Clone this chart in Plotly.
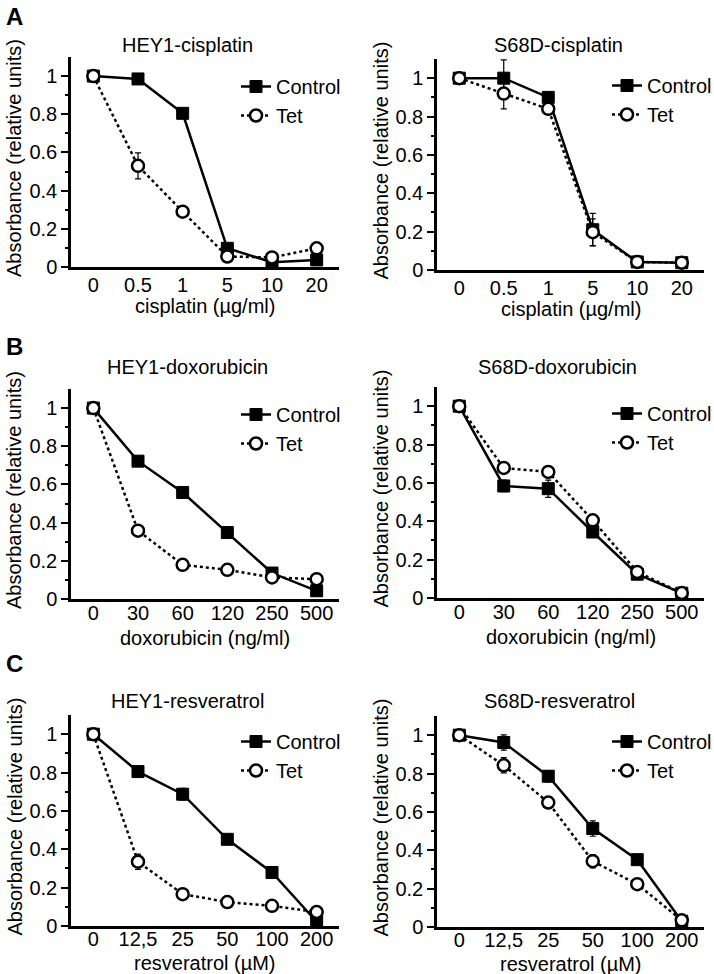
import plotly.graph_objects as go

# ---------------- data ----------------
cis_labels = ["0", "0.5", "1", "5", "10", "20"]
dox_labels = ["0", "30", "60", "120", "250", "500"]
res_labels = ["0", "12,5", "25", "50", "100", "200"]

hey_cis_ctrl = [1.0, 0.985, 0.805, 0.098, 0.025, 0.037]
hey_cis_ctrl_err = [0.0, 0.01, 0.01, 0.01, 0.01, 0.01]
hey_cis_tet = [1.0, 0.53, 0.29, 0.055, 0.05, 0.098]
hey_cis_tet_err = [0.0, 0.068, 0.01, 0.02, 0.01, 0.01]

s68_cis_ctrl = [1.0, 1.0, 0.90, 0.21, 0.042, 0.038]
s68_cis_ctrl_err = [0.0, 0.095, 0.01, 0.085, 0.01, 0.01]
s68_cis_tet = [1.0, 0.92, 0.84, 0.197, 0.042, 0.038]
s68_cis_tet_err = [0.0, 0.08, 0.01, 0.07, 0.01, 0.01]

hey_dox_ctrl = [1.0, 0.722, 0.558, 0.348, 0.136, 0.043]
hey_dox_ctrl_err = [0.0, 0.01, 0.01, 0.01, 0.01, 0.01]
hey_dox_tet = [1.0, 0.358, 0.179, 0.153, 0.113, 0.104]
hey_dox_tet_err = [0.0, 0.01, 0.01, 0.01, 0.01, 0.01]

s68_dox_ctrl = [1.0, 0.584, 0.57, 0.344, 0.124, 0.025]
s68_dox_ctrl_err = [0.0, 0.03, 0.045, 0.01, 0.01, 0.01]
s68_dox_tet = [1.0, 0.678, 0.657, 0.405, 0.136, 0.026]
s68_dox_tet_err = [0.0, 0.01, 0.01, 0.01, 0.01, 0.01]

hey_res_ctrl = [1.0, 0.805, 0.687, 0.452, 0.279, 0.022]
hey_res_ctrl_err = [0.0, 0.01, 0.03, 0.01, 0.01, 0.01]
hey_res_tet = [1.0, 0.335, 0.166, 0.125, 0.105, 0.073]
hey_res_tet_err = [0.0, 0.04, 0.02, 0.01, 0.01, 0.01]

s68_res_ctrl = [1.0, 0.962, 0.786, 0.513, 0.351, 0.03]
s68_res_ctrl_err = [0.0, 0.04, 0.03, 0.04, 0.01, 0.01]
s68_res_tet = [1.0, 0.843, 0.649, 0.343, 0.223, 0.035]
s68_res_tet_err = [0.0, 0.04, 0.025, 0.035, 0.01, 0.01]

titles = ["HEY1-cisplatin", "S68D-cisplatin", "HEY1-doxorubicin",
          "S68D-doxorubicin", "HEY1-resveratrol", "S68D-resveratrol"]
xtitles = ["cisplatin (µg/ml)", "cisplatin (µg/ml)", "doxorubicin (ng/ml)",
           "doxorubicin (ng/ml)", "resveratrol (µM)", "resveratrol (µM)"]
ytitle = "Absorbance (relative units)"
letters = ["A", "B", "C"]

panels = [
    (cis_labels, hey_cis_ctrl, hey_cis_ctrl_err, hey_cis_tet, hey_cis_tet_err),
    (cis_labels, s68_cis_ctrl, s68_cis_ctrl_err, s68_cis_tet, s68_cis_tet_err),
    (dox_labels, hey_dox_ctrl, hey_dox_ctrl_err, hey_dox_tet, hey_dox_tet_err),
    (dox_labels, s68_dox_ctrl, s68_dox_ctrl_err, s68_dox_tet, s68_dox_tet_err),
    (res_labels, hey_res_ctrl, hey_res_ctrl_err, hey_res_tet, hey_res_tet_err),
    (res_labels, s68_res_ctrl, s68_res_ctrl_err, s68_res_tet, s68_res_tet_err),
]

# ---------------- layout geometry (pixels) ----------------
W, H = 714, 974
FONT = "Liberation Sans, Arial, Helvetica, sans-serif"
# (x0, x1, ybottom, ytop) of each plot area in pixels
geom = [
    (71, 339, 267, 57), (437, 704, 270, 59),
    (71, 339, 599, 389), (437, 704, 598, 387),
    (71, 339, 926, 715), (437, 704, 927, 716),
]
tick_standoff = [-2, -2, -6, -6, -7, -7]
xtitle_gap = [39, 39, 39, 39, 37, 37]
title_pos = [(187, 45), (558, 45), (187, 367), (557, 367), (187, 701), (559, 701)]
legend_pos = [(236, 67), (607, 66), (236, 395), (607, 394), (236, 722), (607, 722)]
letter_pos = [(14, 16), (14, 346), (14, 663)]


def px(x):
    return x / W


def py(y):
    return 1 - y / H


fig = go.Figure()
layout = dict(
    width=W, height=H,
    margin=dict(l=0, r=0, t=0, b=0, pad=0, autoexpand=False),
    paper_bgcolor="white", plot_bgcolor="white",
    font=dict(family=FONT, size=20, color="black"),
    showlegend=True,
)
annotations = []

for i, (labels, c, ce, t, te) in enumerate(panels):
    n = i + 1
    xa = "x" if n == 1 else f"x{n}"
    ya = "y" if n == 1 else f"y{n}"
    lg = "legend" if n == 1 else f"legend{n}"
    x0, x1, yb, yt = geom[i]

    fig.add_trace(go.Scatter(
        x=labels, y=c, name="Control", xaxis=xa, yaxis=ya, legend=lg,
        mode="lines+markers",
        line=dict(color="black", width=2.5),
        marker=dict(symbol="square", size=12, color="black",
                    line=dict(color="black", width=1)),
        error_y=dict(type="data", array=ce, color="black", thickness=1.2, width=3),
    ))
    fig.add_trace(go.Scatter(
        x=labels, y=t, name="Tet", xaxis=xa, yaxis=ya, legend=lg,
        mode="lines+markers",
        line=dict(color="black", width=2.5, dash="dot"),
        marker=dict(symbol="circle", size=12, color="white",
                    line=dict(color="black", width=2.5)),
        error_y=dict(type="data", array=te, color="black", thickness=1.2, width=3),
    ))

    layout["xaxis" if n == 1 else f"xaxis{n}"] = dict(
        domain=[px(x0), px(x1)], anchor=ya, type="category",
        categoryorder="array", categoryarray=labels,
        range=[-0.5, 5.5], showline=True, linecolor="black", linewidth=2.5,
        ticks="", showgrid=False, zeroline=False, fixedrange=True,
        automargin=False,
        tickfont=dict(size=20), ticklabelstandoff=tick_standoff[i],
    )
    layout["yaxis" if n == 1 else f"yaxis{n}"] = dict(
        domain=[py(yb), py(yt)], anchor=xa, range=[0, 1.1],
        tickvals=[0, 0.2, 0.4, 0.6, 0.8, 1.0],
        ticktext=["0", "0.2", "0.4", "0.6", "0.8", "1"],
        ticks="outside", ticklen=7, tickwidth=2, tickcolor="black",
        minor=dict(tickvals=[0.1, 0.3, 0.5, 0.7, 0.9], ticks="outside",
                   ticklen=3, tickwidth=1.5, tickcolor="black"),
        showline=True, linecolor="black", linewidth=2.5,
        showgrid=False, zeroline=False, fixedrange=True, automargin=False,
        tickfont=dict(size=20),
    )
    lx, ly = legend_pos[i]
    layout[lg] = dict(
        x=px(lx), y=py(ly), xanchor="left", yanchor="top",
        bgcolor="rgba(0,0,0,0)", borderwidth=0,
        font=dict(size=20, family=FONT), tracegroupgap=0,
        itemwidth=30,
    )
    tx, ty = title_pos[i]
    annotations.append(dict(text=titles[i], x=px(tx), y=py(ty), xref="paper",
                            yref="paper", showarrow=False, xanchor="center",
                            yanchor="middle", font=dict(size=20)))
    annotations.append(dict(text=xtitles[i], x=px((x0 + x1) / 2),
                            y=py(yb + xtitle_gap[i]),
                            xref="paper", yref="paper", showarrow=False,
                            xanchor="center", yanchor="middle",
                            font=dict(size=20)))
    annotations.append(dict(text=ytitle, x=px(x0 - 57), y=py((yb + yt) / 2 - 4),
                            xref="paper", yref="paper", showarrow=False,
                            textangle=-90, xanchor="center", yanchor="middle",
                            font=dict(size=20)))

for k, L in enumerate(letters):
    lx, ly = letter_pos[k]
    annotations.append(dict(text=f"<b>{L}</b>", x=px(lx), y=py(ly), xref="paper",
                            yref="paper", showarrow=False, xanchor="center",
                            yanchor="middle", font=dict(size=24)))

layout["annotations"] = annotations
fig.update_layout(**layout)
fig.write_html(
    "out.html",
    config=dict(displayModeBar=False),
    post_script=(
        "var de=document.documentElement;"
        "de.style.margin='0';de.style.padding='0';de.style.overflow='hidden';"
        "de.style.height='974px';"
        "document.body.style.margin='0';document.body.style.padding='0';"
        "document.body.style.overflow='hidden';document.body.style.height='974px';"
    ),
)
